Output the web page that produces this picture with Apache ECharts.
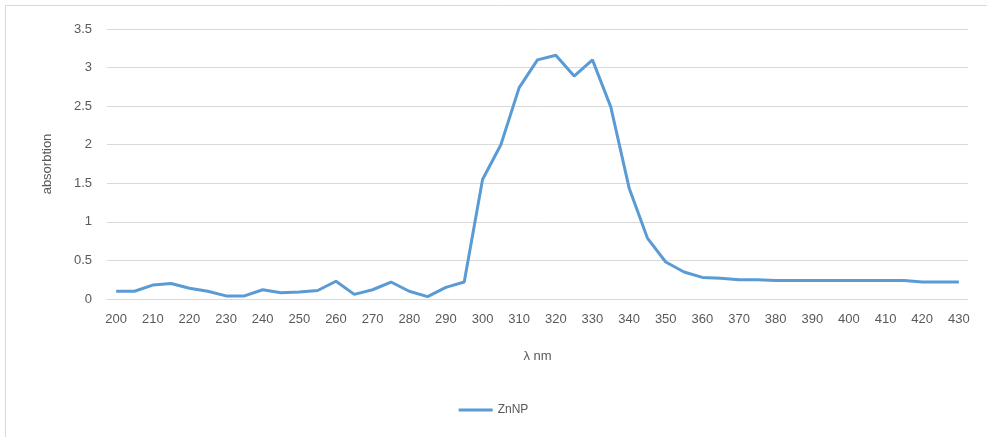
<!DOCTYPE html>
<html><head><meta charset="utf-8">
<script src="https://cdn.jsdelivr.net/npm/echarts@6/dist/echarts.min.js"></script>
<style>html,body{margin:0;padding:0;background:#fff}#c{width:987px;height:437px}</style>
</head><body><div id="c"></div>
<script>
const categories = ['200','205','210','215','220','225','230','235','240','245','250','255','260','265','270','275','280','285','290','295','300','305','310','315','320','325','330','335','340','345','350','355','360','365','370','375','380','385','390','395','400','405','410','415','420','425','430'];
const znnp = [0.10,0.10,0.18,0.20,0.14,0.10,0.04,0.04,0.12,0.08,0.09,0.11,0.23,0.06,0.12,0.22,0.10,0.03,0.15,0.22,1.55,2.00,2.74,3.10,3.16,2.89,3.10,2.49,1.44,0.79,0.48,0.35,0.28,0.27,0.25,0.25,0.24,0.24,0.24,0.24,0.24,0.24,0.24,0.24,0.22,0.22,0.22];
const yTicks = {min:0, max:3.5, interval:0.5};
const chart = echarts.init(document.getElementById('c'));
const txt = '#595959', font = '"Liberation Sans", Arial, sans-serif';
chart.setOption({
  animation:false,
  graphic:[{type:'rect',shape:{x:5.5,y:5.5,width:1000,height:1000},style:{fill:'none',stroke:'#d9d9d9',lineWidth:1},silent:true}],
  grid:{left:107,right:19,top:29,bottom:138},
  xAxis:{type:'category',data:categories,boundaryGap:true,
    name:'λ nm',nameLocation:'middle',nameGap:51,nameTextStyle:{color:txt,fontSize:13,fontFamily:font},
    axisLine:{lineStyle:{color:'#d9d9d9'}},axisTick:{show:false},
    axisLabel:{interval:1,color:txt,fontSize:13,fontFamily:font,margin:14}},
  yAxis:{type:'value',min:yTicks.min,max:yTicks.max,interval:yTicks.interval,
    name:'absorbtion',nameLocation:'middle',nameGap:53,nameTextStyle:{color:txt,fontSize:13,fontFamily:font},
    axisLine:{show:false},axisTick:{show:false},
    splitLine:{lineStyle:{color:'#d9d9d9'}},
    axisLabel:{color:txt,fontSize:13,fontFamily:font,margin:15}},
  legend:{bottom:16,left:'center',itemWidth:34,itemHeight:3,icon:'rect',textStyle:{color:txt,fontSize:12,fontFamily:font},data:['ZnNP']},
  series:[{name:'ZnNP',type:'line',data:znnp,symbol:'none',lineStyle:{color:'#5B9BD5',width:3},itemStyle:{color:'#5B9BD5'}}]
});
</script></body></html>
